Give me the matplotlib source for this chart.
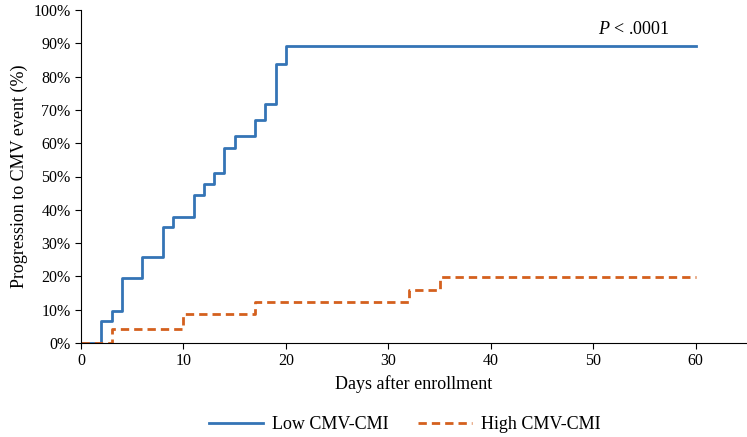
import matplotlib.pyplot as plt
from matplotlib.ticker import FuncFormatter

plt.rc('font', family='Liberation Serif')
plt.rc('xtick', labelsize=11.5)
plt.rc('ytick', labelsize=11.5)
plt.rcParams['mathtext.fontset'] = 'custom'
plt.rcParams['mathtext.it'] = 'Liberation Serif:italic'
plt.rcParams['mathtext.rm'] = 'Liberation Serif'

# step data (day, cumulative %)
low_days = [0, 2, 3, 4, 6, 8, 9, 11, 12, 13, 14, 15, 17, 18, 19, 20, 60]
low_pct = [0, 6.5, 9.7, 19.4, 25.8, 34.8, 37.8, 44.3, 47.6, 51.0, 58.6, 62.3, 67.0, 71.7, 83.8, 89.3, 89.3]

high_days = [0, 3, 10, 17, 32, 35, 60]
high_pct = [0, 4.3, 8.7, 12.2, 16.0, 19.8, 19.8]

fig = plt.figure(figsize=(7.47, 4.37), dpi=100)
ax = fig.add_axes([81/747, 1-343/437, 666/747, 333/437])

ax.step(low_days, low_pct, where='post', color='#3474b6', linewidth=2, label='Low CMV-CMI')
ax.step(high_days, high_pct, where='post', color='#d4601e', linewidth=2, linestyle=(0, (3, 1.8)), label='High CMV-CMI')

ax.set_xlim(0, 65)
ax.set_ylim(0, 100)
ax.set_xticks(range(0, 61, 10))
ax.set_yticks(range(0, 101, 10))
ax.yaxis.set_major_formatter(FuncFormatter(lambda v, p: '%d%%' % v))
ax.spines['top'].set_visible(False)
ax.spines['right'].set_visible(False)
ax.tick_params(direction='out', length=4)

ax.text(54, 94, '$P$ < .0001', ha='center', va='center', fontsize=13)

ax.set_xlabel('Days after enrollment', fontsize=13)
ax.set_ylabel('Progression to CMV event (%)', fontsize=13)

ax.legend(loc='center', bbox_to_anchor=(0.486, -0.246), ncol=2, frameon=False,
          fontsize=13, handlelength=3.0, handletextpad=0.5, columnspacing=1.6)

fig.savefig('out.png', dpi=100)
